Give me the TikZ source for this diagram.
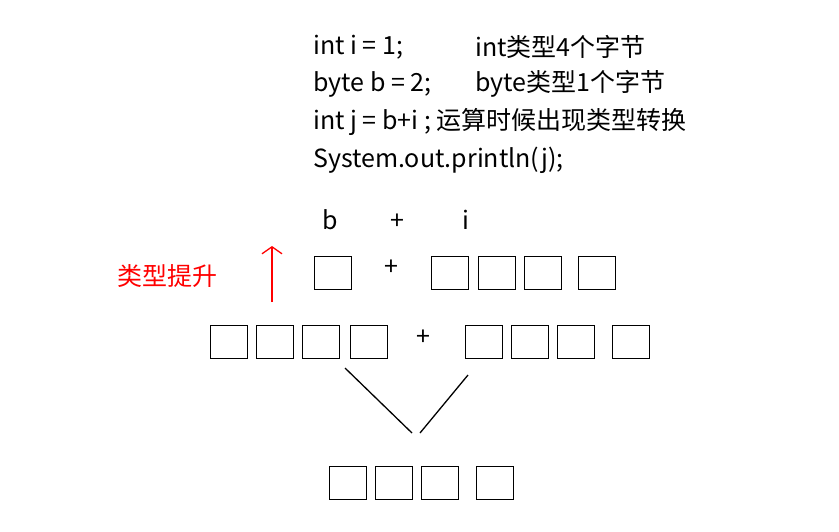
\documentclass[tikz,border=0pt]{standalone}
\usepackage{fontspec}
\setmainfont{Noto Sans CJK SC}
\usetikzlibrary{arrows.meta}
\begin{document}
\begin{tikzpicture}[
    x = 1pt, y = -1pt,
    cell/.style = {draw, line width = 1.3pt, minimum width = 37pt, minimum height = 33pt, inner sep = 0pt},
    code/.style = {anchor = west, inner sep = 0pt, font = \fontsize{25}{28}\selectfont},
    sym/.style = {inner sep = 0pt, font = \fontsize{25}{28}\selectfont}
]
\useasboundingbox (0,0) rectangle (839,531);
% code lines
\node[code] (l1) at (313,47) {int i = 1;};
\node[code] (c1) at (475,47) {int类型4个字节};
\node[code] (l2) at (313,84) {byte b = 2;};
\node[code] (c2) at (475,84) {byte类型1个字节};
\node[code] (l3) at (313,122) {int j = b+i ; 运算时候出现类型转换};
\node[code] (l4) at (313,160) {System.out.println(j);};
% b + i
\node[sym] (lb) at (330,220) {b};
\node[sym] (lp) at (397,222) {+};
\node[sym] (li) at (466,220) {i};
% first row
\node[cell] (b1) at (333,273) {};
\node[sym] (p1) at (391,268) {+};
\foreach \x [count = \k] in {450,497,543,597}
    \node[cell] (i\k) at (\x,273) {};
\node[text = red, inner sep = 0pt, font = \fontsize{25}{28}\selectfont] (up) at (167,276) {类型提升};
\coordinate (ua) at (272,302);
\coordinate (ub) at (272,246);
\draw[red, line width = 1.3pt, -{Straight Barb[length = 7pt, width = 20pt]}] (ua) -- (ub);
% second row
\foreach \x [count = \k] in {229,275,321,369}
    \node[cell] (a\k) at (\x,342) {};
\node[sym] (p2) at (423,338) {+};
\foreach \x [count = \k] in {484,530,576,631}
    \node[cell] (c\k) at (\x,342) {};
% lines
\coordinate (m) at (412,433);
\coordinate (n) at (420,433);
\draw[line width = 1.3pt] (345,368) -- (m);
\draw[line width = 1.3pt] (468,375) -- (n);
% result
\foreach \x [count = \k] in {348,394,440,495}
    \node[cell] (r\k) at (\x,483) {};
\end{tikzpicture}
\end{document}
